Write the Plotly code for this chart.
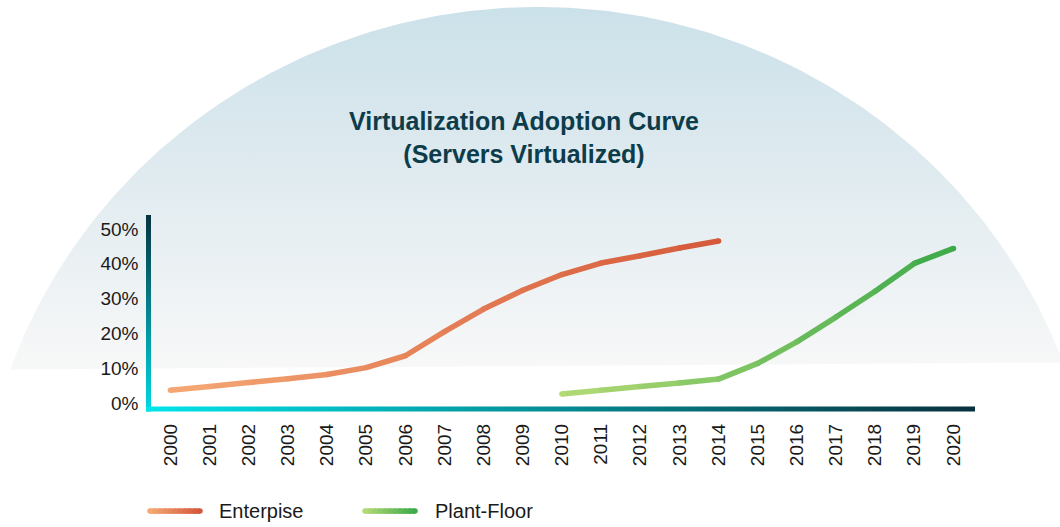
import math
import plotly.graph_objects as go

# ---------------- data ----------------
years = [str(y) for y in range(2000, 2021)]
enterprise_years = years[0:15]
enterprise_values = [3.7, 4.8, 5.9, 7.0, 8.2, 10.2, 13.6, 20.5, 27.0, 32.4, 36.9, 40.2, 42.3, 44.5, 46.5]
plant_years = years[10:21]
plant_values = [2.6, 3.7, 4.8, 5.8, 6.9, 11.4, 17.6, 24.7, 32.1, 40.1, 44.4]
y_tick_values = [0, 10, 20, 30, 40, 50]
y_tick_labels = ["0%", "10%", "20%", "30%", "40%", "50%"]
series_names = ["Enterpise", "Plant-Floor"]
title_lines = ["Virtualization Adoption Curve", "(Servers Virtualized)"]

# ---------------- styles / layout ----------------
W, H = 1060, 527
FONT = "Liberation Sans, Arial, Helvetica, sans-serif"
TEXT = "#1a1a1a"
TITLE_COLOR = "#0d3c4a"
ENT_COLORS = ((245, 168, 116), (212, 88, 58))
PLANT_COLORS = ((180, 218, 118), (60, 169, 74))
LW = 5.5

PLOT_L, PLOT_R = 148.5, 975.0      # pixel edges of plot area
PLOT_T, PLOT_B = 217.0, 413.0
X_RANGE = [-0.56, 20.55]
Y_RANGE = [-1.7, 54.0]


def lerp(c0, c1, t):
    return "rgb(%d,%d,%d)" % tuple(round(a + (b - a) * t) for a, b in zip(c0, c1))


fig = go.Figure()

# ---- dome background (pixel coordinate axes x/y, y up) ----
cx, top_px, B, A = 538.0, 7.0, 550.0, 560.0
cyc = top_px + B
th_r = math.asin((cyc - 366.0) / B)
th_l = math.pi - math.asin((cyc - 373.0) / B)
n = 200
dx, dy = [], []
for i in range(n + 1):
    th = th_r + (th_l - th_r) * i / n
    dx.append(cx + A * math.cos(th))
    dy.append(H - (cyc - B * math.sin(th)))
dx.append(dx[0]); dy.append(dy[0])
fig.add_trace(go.Scatter(
    x=dx, y=dy, mode="lines", fill="toself", line=dict(width=0),
    fillgradient=dict(type="vertical",
                      colorscale=[[0, "#f8f8f8"], [0.45, "#e4edf1"], [1, "#cbe1e9"]],
                      start=H - 373, stop=H - top_px),
    xaxis="x", yaxis="y", showlegend=False, hoverinfo="skip"))


def rect(x0, x1, y0, y1, gtype, c0, c1, start, stop):
    fig.add_trace(go.Scatter(
        x=[x0, x1, x1, x0, x0], y=[H - y0, H - y0, H - y1, H - y1, H - y0],
        mode="lines", fill="toself", line=dict(width=0),
        fillgradient=dict(type=gtype, colorscale=[[0, c0], [1, c1]], start=start, stop=stop),
        xaxis="x", yaxis="y", showlegend=False, hoverinfo="skip"))


# gradient axis lines
rect(146.0, 151.0, PLOT_T, PLOT_B + 2.5, "vertical", "#00dde4", "#083441",
     H - (PLOT_B + 2.5), H - PLOT_T)
rect(146.0, PLOT_R, PLOT_B - 2.5, PLOT_B + 2.5, "horizontal", "#00e4ea", "#08313d",
     146.0, PLOT_R)


def gradient_line(xs, ys, cols, xa, ya, width):
    m = len(xs)
    for i in range(m - 1):
        fig.add_trace(go.Scatter(
            x=[xs[i], xs[i + 1]], y=[ys[i], ys[i + 1]], mode="lines",
            line=dict(color=lerp(cols[0], cols[1], (i + 0.5) / (m - 1)), width=width),
            xaxis=xa, yaxis=ya, showlegend=False, hoverinfo="skip"))
    fig.add_trace(go.Scatter(
        x=xs, y=ys, mode="markers",
        marker=dict(size=width, color=[lerp(cols[0], cols[1], i / (m - 1)) for i in range(m)],
                    line=dict(width=0)),
        xaxis=xa, yaxis=ya, showlegend=False, hoverinfo="skip"))


# data lines
gradient_line(enterprise_years, enterprise_values, ENT_COLORS, "x2", "y2", LW)
gradient_line(plant_years, plant_values, PLANT_COLORS, "x2", "y2", LW)

# custom legend (gradient lines)
LEG_Y = 516.0
for (lx0, lx1, tx), cols, name in zip([(150.0, 200.0, 217.0), (365.0, 415.0, 433.0)],
                                        [ENT_COLORS, PLANT_COLORS], series_names):
    k = 10
    gradient_line([lx0 + (lx1 - lx0) * i / k for i in range(k + 1)], [H - LEG_Y] * (k + 1),
                  cols, "x", "y", LW)
    fig.add_annotation(x=tx, y=H - LEG_Y, xref="x", yref="y", text=name, showarrow=False,
                       xanchor="left", yanchor="middle",
                       font=dict(family=FONT, size=20, color=TEXT))

# title
fig.add_annotation(x=524 / W, y=1 - 138.5 / H, xref="paper", yref="paper",
                   text="<br>".join(title_lines), showarrow=False,
                   xanchor="center", yanchor="middle", align="center",
                   font=dict(family=FONT, size=25, color=TITLE_COLOR, weight="bold"))

fig.update_layout(
    width=W, height=H, margin=dict(l=0, r=0, t=0, b=0),
    paper_bgcolor="white", plot_bgcolor="rgba(0,0,0,0)",
    showlegend=False, hovermode=False,
    xaxis=dict(domain=[0, 1], range=[0, W], visible=False, fixedrange=True),
    yaxis=dict(domain=[0, 1], range=[0, H], visible=False, fixedrange=True),
    xaxis2=dict(domain=[PLOT_L / W, PLOT_R / W], anchor="y2", type="category",
                categoryorder="array", categoryarray=years, range=X_RANGE,
                showgrid=False, zeroline=False, showline=False, ticks="",
                tickangle=-90, ticklabelstandoff=10, fixedrange=True,
                tickfont=dict(family=FONT, size=19, color=TEXT)),
    yaxis2=dict(domain=[1 - PLOT_B / H, 1 - PLOT_T / H], anchor="x2", range=Y_RANGE,
                tickvals=y_tick_values, ticktext=y_tick_labels,
                showgrid=False, zeroline=False, showline=False, ticks="",
                ticklabelstandoff=9, fixedrange=True,
                tickfont=dict(family=FONT, size=19, color=TEXT)),
)

fig.write_html("out.html", config={"displayModeBar": False},
               post_script="document.body.style.margin='0px';document.body.style.overflow='hidden';")
